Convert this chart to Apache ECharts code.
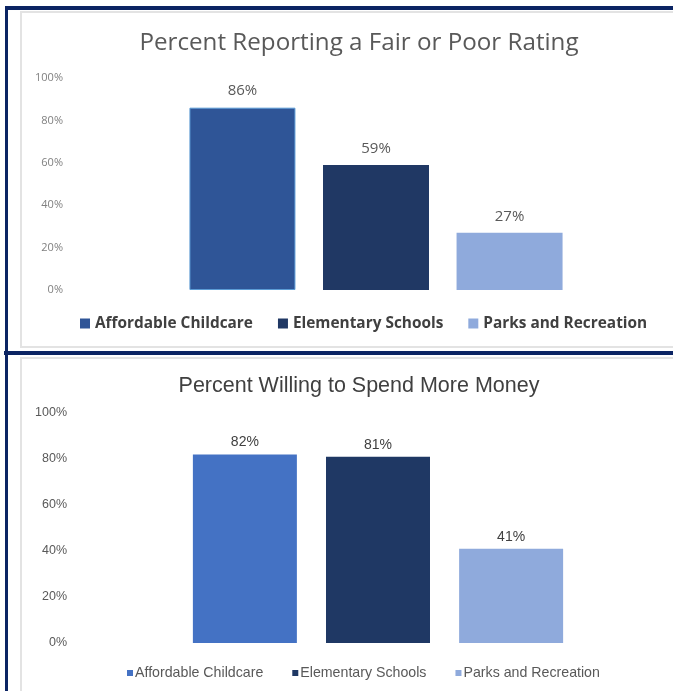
<!DOCTYPE html>
<html>
<head>
<meta charset="utf-8">
<script src="https://cdn.jsdelivr.net/npm/echarts@6/dist/echarts.min.js"></script>
<style>
html,body{margin:0;padding:0;background:#fff;}
#c{width:673px;height:691px;}
</style>
</head>
<body>
<div id="c"></div>
<script>
// ---- data ----
const categories = ['Affordable Childcare', 'Elementary Schools', 'Parks and Recreation'];
const fairPoorPct = [86, 59, 27];
const willingSpendPct = [82, 81, 41];
const topTitle = 'Percent Reporting a Fair or Poor Rating';
const bottomTitle = 'Percent Willing to Spend More Money';
const yMin = 0, yMax = 100, yStep = 20;

// ---- styles ----
const topColors = ['#2F5597', '#203864', '#8FAADC'];
const bottomColors = ['#4472C4', '#1F3864', '#8FAADC'];
const navy = '#0B2463';
const calibriLike = '"Open Sans", "Noto Sans", sans-serif';
const arialLike = '"Liberation Sans", Arial, sans-serif';

const chart = echarts.init(document.getElementById('c'), null, {renderer: 'canvas'});

const series = [];
categories.forEach((name, i) => {
  series.push({
    type: 'bar', name: name, xAxisIndex: 0, yAxisIndex: 0,
    data: [fairPoorPct[i]],
    barWidth: 106, barGap: '26%',
    itemStyle: {color: topColors[i], borderColor: i === 0 ? '#5B9BD5' : topColors[i], borderWidth: i === 0 ? 1 : 0},
    label: {show: true, position: 'top', distance: 9, formatter: '{c}%',
      fontFamily: calibriLike, fontSize: 15, color: '#595959'},
    emphasis: {disabled: true}, animation: false
  });
});
categories.forEach((name, i) => {
  series.push({
    type: 'bar', name: name, xAxisIndex: 1, yAxisIndex: 1,
    data: [willingSpendPct[i]],
    barWidth: 104, barGap: '28%',
    itemStyle: {color: bottomColors[i]},
    label: {show: true, position: 'top', distance: 5, formatter: '{c}%',
      fontFamily: arialLike, fontSize: 14, color: '#404040'},
    emphasis: {disabled: true}, animation: false
  });
});

const hiddenX = (idx) => ({
  type: 'category', gridIndex: idx, data: [''],
  axisLine: {show: false}, axisTick: {show: false}, axisLabel: {show: false}, splitLine: {show: false}
});

const option = {
  animation: false,
  backgroundColor: '#ffffff',
  title: [
    {text: topTitle, left: 354, top: 26, textAlign: 'center',
      textStyle: {fontFamily: calibriLike, fontSize: 24.2, fontWeight: 'normal', color: '#595959'}},
    {text: bottomTitle, left: 354, top: 370, textAlign: 'center',
      textStyle: {fontFamily: arialLike, fontSize: 21.5, fontWeight: 'normal', color: '#404040'}}
  ],
  legend: [
    {left: 75, top: 311, icon: 'rect', itemWidth: 10, itemHeight: 10, itemGap: 25,
      data: categories.map((n, i) => ({name: n, itemStyle: {color: topColors[i], borderWidth: 0}})),
      textStyle: {fontFamily: calibriLike, fontSize: 15.4, fontWeight: 'bold', color: '#404040'},
      selectedMode: false},
    {left: 122, top: 661, icon: 'rect', itemWidth: 6, itemHeight: 6, itemGap: 29,
      data: categories.map((n, i) => ({name: n, itemStyle: {color: bottomColors[i], borderWidth: 0}})),
      textStyle: {fontFamily: arialLike, fontSize: 14.2, color: '#595959', padding: [0, 0, 0, -3]},
      selectedMode: false}
  ],
  grid: [
    {left: 80, top: 78, width: 592, height: 212, containLabel: false},
    {left: 84, top: 413, width: 588, height: 230, containLabel: false}
  ],
  xAxis: [hiddenX(0), hiddenX(1)],
  yAxis: [
    {type: 'value', gridIndex: 0, min: yMin, max: yMax, interval: yStep,
      axisLine: {show: false}, axisTick: {show: false}, splitLine: {show: false},
      axisLabel: {formatter: '{value}%', margin: 17, fontFamily: calibriLike, fontSize: 11, color: '#808080'}},
    {type: 'value', gridIndex: 1, min: yMin, max: yMax, interval: yStep,
      axisLine: {show: false}, axisTick: {show: false}, splitLine: {show: false},
      axisLabel: {formatter: '{value}%', margin: 17, fontFamily: arialLike, fontSize: 12.5, color: '#595959'}}
  ],
  series: series,
  graphic: [
    {type: 'rect', shape: {x: 21, y: 12, width: 700, height: 335}, style: {fill: null, stroke: '#e3e3e3', lineWidth: 2}, z: 1},
    {type: 'rect', shape: {x: 21, y: 358, width: 700, height: 400}, style: {fill: null, stroke: '#e3e3e3', lineWidth: 2}, z: 1},
    {type: 'rect', shape: {x: 5, y: 6, width: 668, height: 4}, style: {fill: navy}, z: 100},
    {type: 'rect', shape: {x: 5, y: 6, width: 3, height: 685}, style: {fill: navy}, z: 100},
    {type: 'rect', shape: {x: 4, y: 351, width: 669, height: 4}, style: {fill: navy}, z: 100}
  ]
};
chart.setOption(option);
</script>
</body>
</html>
